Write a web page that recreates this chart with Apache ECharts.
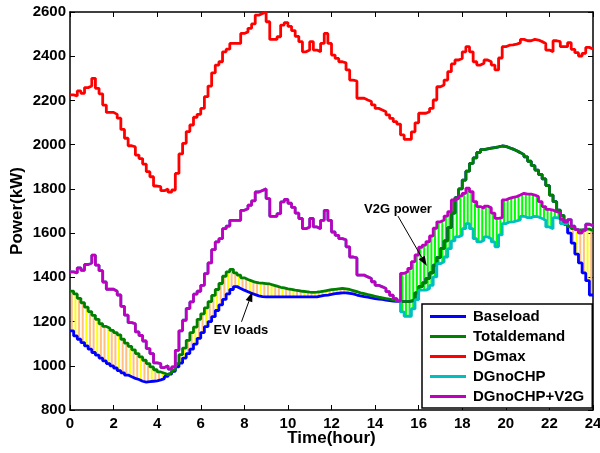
<!DOCTYPE html>
<html>
<head>
<meta charset="utf-8">
<script src="https://cdn.jsdelivr.net/npm/echarts@6/dist/echarts.min.js"></script>
<style>
  html, body { margin: 0; padding: 0; background: #fff; }
  #chart { width: 600px; height: 453px; }
</style>
</head>
<body>
<div id="chart"></div>
<script>
// Ten-minute samples over one day (kW), each value held until the next sample.
const STEP_HOURS = 1 / 6;

const baseload = [
  1158,1135,1120,1105,1090,1075,1060,1048,1035,1022,
  1010,1000,990,978,968,958,950,943,938,930,
  926,928,930,932,936,942,952,962,975,995,
  1012,1035,1055,1075,1098,1124,1150,1177,1200,1222,
  1250,1275,1300,1325,1345,1358,1350,1342,1335,1328,
  1322,1316,1313,1312,1312,1312,1312,1312,1312,1312,
  1312,1312,1312,1312,1312,1312,1312,1312,1315,1318,
  1320,1323,1326,1328,1330,1330,1328,1325,1320,1316,
  1313,1310,1307,1304,1302,1300,1297,1295,1293,1291,
  1290,1290,1290,1292,1300,1330,1358,1375,1395,1420,
  1455,1490,1530,1565,1625,1690,1760,1800,1840,1880,
  1915,1940,1965,1978,1981,1984,1987,1990,1994,1992,
  1986,1980,1972,1964,1955,1945,1925,1905,1885,1865,
  1845,1815,1772,1742,1704,1680,1640,1600,1555,1505,
  1465,1420,1385,1320
];

const totalDemand = [
  1338,1325,1305,1285,1265,1245,1228,1210,1190,1178,
  1170,1160,1150,1140,1120,1102,1088,1072,1055,1040,
  1025,1010,995,982,972,966,960,968,980,1010,
  1050,1080,1115,1150,1175,1210,1235,1262,1290,1318,
  1345,1372,1405,1425,1436,1420,1410,1398,1390,1384,
  1378,1375,1374,1372,1370,1365,1360,1355,1352,1348,
  1345,1342,1340,1337,1335,1333,1332,1333,1335,1338,
  1341,1344,1346,1348,1350,1348,1345,1340,1335,1330,
  1326,1322,1318,1314,1310,1307,1304,1301,1298,1294,
  1291,1290,1290,1292,1300,1330,1358,1375,1395,1420,
  1455,1490,1530,1565,1625,1690,1760,1800,1840,1880,
  1915,1940,1965,1978,1981,1984,1987,1990,1994,1992,
  1986,1980,1972,1964,1955,1945,1925,1905,1885,1865,
  1845,1815,1772,1742,1704,1680,1655,1630,1620,1614,
  1614,1618,1618,1612
];

const dgMax = [
  2225,2220,2243,2232,2258,2265,2300,2255,2230,2179,
  2146,2146,2137,2120,2069,2029,1995,1990,1953,1937,
  1912,1878,1855,1813,1810,1792,1800,1785,1795,1870,
  1958,2006,2059,2089,2124,2137,2164,2217,2265,2325,
  2360,2375,2420,2432,2458,2458,2458,2503,2510,2526,
  2546,2586,2593,2600,2556,2476,2476,2488,2541,2552,
  2535,2516,2490,2466,2420,2428,2466,2428,2420,2458,
  2503,2458,2405,2390,2375,2370,2338,2292,2288,2210,
  2210,2202,2195,2180,2164,2157,2149,2135,2119,2104,
  2093,2044,2024,2024,2058,2099,2142,2142,2149,2164,
  2202,2262,2270,2292,2330,2365,2383,2390,2420,2443,
  2420,2375,2360,2368,2383,2375,2360,2338,2392,2443,
  2450,2451,2455,2460,2476,2470,2470,2476,2473,2466,
  2458,2428,2420,2470,2466,2443,2443,2461,2431,2416,
  2401,2413,2440,2433
];

const dgNoChp = [
  1425,1420,1443,1432,1458,1465,1500,1455,1430,1379,
  1346,1346,1337,1320,1269,1229,1195,1190,1153,1137,
  1112,1078,1055,1013,1010,992,1000,985,995,1070,
  1158,1206,1259,1289,1324,1337,1364,1417,1465,1525,
  1560,1575,1620,1632,1658,1658,1658,1703,1710,1726,
  1746,1786,1793,1800,1756,1676,1676,1688,1741,1752,
  1735,1716,1690,1666,1620,1628,1666,1628,1620,1658,
  1703,1658,1605,1590,1575,1570,1538,1492,1488,1410,
  1410,1402,1395,1380,1364,1357,1349,1335,1319,1304,
  1293,1244,1224,1224,1258,1299,1342,1342,1349,1364,
  1402,1462,1470,1492,1530,1565,1583,1590,1620,1643,
  1620,1575,1560,1568,1583,1575,1560,1538,1592,1643,
  1650,1651,1655,1660,1676,1670,1670,1676,1673,1666,
  1658,1628,1620,1670,1666,1643,1643,1661,1631,1616,
  1601,1613,1640,1633
];

const dgNoChpV2g = [
  1425,1420,1443,1432,1458,1465,1500,1455,1430,1379,
  1346,1346,1337,1320,1269,1229,1195,1190,1153,1137,
  1112,1078,1055,1013,1010,992,1000,985,995,1070,
  1158,1206,1259,1289,1324,1337,1364,1417,1465,1525,
  1560,1575,1620,1632,1658,1658,1658,1703,1710,1726,
  1746,1786,1793,1800,1756,1676,1676,1688,1741,1752,
  1735,1716,1690,1666,1620,1628,1666,1628,1620,1658,
  1703,1658,1605,1590,1575,1570,1538,1492,1488,1410,
  1410,1402,1395,1380,1364,1357,1349,1335,1319,1304,
  1293,1418,1425,1440,1471,1501,1536,1546,1561,1587,
  1622,1651,1659,1677,1697,1750,1757,1768,1780,1803,
  1787,1742,1720,1712,1722,1715,1690,1667,1670,1750,
  1757,1762,1765,1772,1780,1776,1776,1772,1765,1742,
  1720,1707,1704,1697,1692,1662,1650,1661,1631,1616,
  1601,1613,1640,1633
];

const seriesNames = ['Baseload', 'Totaldemand', 'DGmax', 'DGnoCHP', 'DGnoCHP+V2G'];
const seriesColors = ['#0000ff', '#008000', '#ff0000', '#00bfbf', '#bf00bf'];
const yTicks = { min: 800, max: 2600, step: 200 };
const xTicks = { min: 0, max: 24, step: 2 };

const annotations = [
  { text: 'V2G power', label: [15.05, 1709], from: [15.05, 1677], to: [16.37, 1451] },
  { text: 'EV loads', label: [7.84, 1162], from: [7.87, 1199], to: [8.37, 1335] }
];

const FONT = "'Liberation Sans', Arial, Helvetica, sans-serif";
const times = baseload.map((_, i) => i * STEP_HOURS);

// Stair points: each sample holds until the next one, last one until the end of the day.
function stairs(values) {
  const pts = values.map((v, i) => [times[i], v]);
  pts.push([xTicks.max, values[values.length - 1]]);
  return pts;
}

// Vertical hatch segments between a lower and an upper curve.
function hatch(low, high, colorFor) {
  const data = [];
  low.forEach((lo, i) => {
    if (high[i] - lo > 3) data.push([times[i] + STEP_HOURS / 2, lo, high[i], i]);
  });
  return {
    type: 'custom',
    z: 1,
    silent: true,
    data: data,
    encode: { x: 0, y: [1, 2] },
    renderItem: (params, api) => {
      const x = api.value(0);
      const p1 = api.coord([x, api.value(1)]);
      const p2 = api.coord([x, api.value(2)]);
      return {
        type: 'line',
        shape: { x1: p1[0], y1: p1[1], x2: p2[0], y2: p2[1] },
        style: { stroke: colorFor(api.value(3)), lineWidth: 2 }
      };
    }
  };
}

const lineSeries = [baseload, totalDemand, dgMax, dgNoChp, dgNoChpV2g].map((vals, k) => ({
  name: seriesNames[k],
  type: 'line',
  step: 'end',
  z: 3 + k,
  showSymbol: false,
  symbol: 'none',
  data: stairs(vals),
  lineStyle: { color: seriesColors[k], width: 2.8 },
  itemStyle: { color: seriesColors[k] }
}));

const labelStyle = { color: '#000', fontWeight: 'bold', fontSize: 15, fontFamily: FONT, formatter: v => String(v) };
const nameStyle = { color: '#000', fontWeight: 'bold', fontSize: 17, fontFamily: FONT };
const frameLine = { show: true, onZero: false, lineStyle: { color: '#000', width: 1.5 } };
const innerTick = { show: true, inside: true, length: 5, lineStyle: { color: '#000', width: 1 } };

const chart = echarts.init(document.getElementById('chart'), null, { renderer: 'canvas' });

chart.setOption({
  animation: false,
  backgroundColor: '#fff',
  grid: { left: 70, right: 7, top: 12, bottom: 43, containLabel: false, outerBoundsMode: 'none' },
  xAxis: [
    {
      type: 'value', min: xTicks.min, max: xTicks.max, interval: xTicks.step,
      axisLine: frameLine, axisTick: innerTick,
      axisLabel: Object.assign({ margin: 6 }, labelStyle),
      splitLine: { show: false },
      name: 'Time(hour)', nameLocation: 'middle', nameGap: 20, nameMoveOverlap: false,
      nameTextStyle: nameStyle
    },
    {
      type: 'value', position: 'top', min: xTicks.min, max: xTicks.max, interval: xTicks.step,
      axisLine: frameLine, axisTick: innerTick, axisLabel: { show: false }, splitLine: { show: false }
    }
  ],
  yAxis: [
    {
      type: 'value', min: yTicks.min, max: yTicks.max, interval: yTicks.step,
      axisLine: frameLine, axisTick: innerTick,
      axisLabel: Object.assign({ margin: 4 }, labelStyle),
      splitLine: { show: false },
      name: 'Power(kW)', nameLocation: 'middle', nameGap: 44, nameRotate: 90, nameMoveOverlap: false,
      nameTextStyle: nameStyle
    },
    {
      type: 'value', position: 'right', min: yTicks.min, max: yTicks.max, interval: yTicks.step,
      axisLine: frameLine, axisTick: innerTick, axisLabel: { show: false }, splitLine: { show: false }
    }
  ],
  legend: {
    data: seriesNames,
    orient: 'vertical',
    left: 422, top: 304,
    icon: 'rect',
    itemWidth: 36, itemHeight: 3, itemGap: 5,
    padding: [5, 8, 4, 8],
    backgroundColor: '#fff',
    borderColor: '#000', borderWidth: 1.5,
    textStyle: { color: '#000', fontWeight: 'bold', fontSize: 15, fontFamily: FONT, padding: [0, 0, 0, 2] }
  },
  series: [
    hatch(baseload, totalDemand, i => (i % 3 === 1 ? '#ffff00' : '#ffbf80')),
    hatch(dgNoChp, dgNoChpV2g, () => '#00ff00')
  ].concat(lineSeries)
});

// Annotation texts and arrows, anchored in data coordinates.
const graphics = [];
annotations.forEach(a => {
  const pt = v => chart.convertToPixel({ xAxisIndex: 0, yAxisIndex: 0 }, v);
  const t = pt(a.label), p0 = pt(a.from), p1 = pt(a.to);
  const ang = Math.atan2(p1[1] - p0[1], p1[0] - p0[0]);
  const len = 10, half = 3.5;
  const bx = p1[0] - len * Math.cos(ang), by = p1[1] - len * Math.sin(ang);
  graphics.push({
    type: 'text', x: t[0], y: t[1], z: 20,
    style: { text: a.text, fill: '#000', font: 'bold 13px ' + FONT, textAlign: 'center', textVerticalAlign: 'middle' }
  });
  graphics.push({
    type: 'line', z: 20,
    shape: { x1: p0[0], y1: p0[1], x2: bx, y2: by },
    style: { stroke: '#000', lineWidth: 1 }
  });
  graphics.push({
    type: 'polygon', z: 20,
    shape: { points: [
      [p1[0], p1[1]],
      [bx - half * Math.sin(ang), by + half * Math.cos(ang)],
      [bx + half * Math.sin(ang), by - half * Math.cos(ang)]
    ] },
    style: { fill: '#000' }
  });
});
chart.setOption({ graphic: graphics });
</script>
</body>
</html>
